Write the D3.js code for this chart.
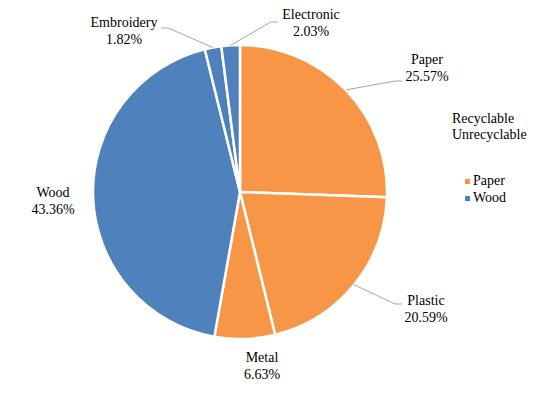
<!DOCTYPE html>
<html>
<head>
<meta charset="utf-8">
<script src="https://cdn.jsdelivr.net/npm/d3@7"></script>
<style>
  body { margin: 0; background: #fff; }
  svg text { font-family: "Liberation Serif", "DejaVu Serif", "Times New Roman", Times, serif; font-size: 14px; fill: #000; }
</style>
</head>
<body>
<div id="chart"></div>
<script>
// slice data, clockwise from 12 o'clock
const categories = ["Paper", "Plastic", "Metal", "Wood", "Embroidery", "Electronic"];
const shares = [25.57, 20.59, 6.63, 43.36, 1.82, 2.03];
const groups = ["Recyclable", "Recyclable", "Recyclable", "Unrecyclable", "Unrecyclable", "Unrecyclable"];
const legendTitles = ["Recyclable", "Unrecyclable"];
const legendItems = ["Paper", "Wood"];

// label layout (offset from pie centre) and leader elbows, null = no leader
const labelPos = [[187, -128], [186, 113], [22, 170], [-187, 5], [-116, -165], [71, -173]];
const elbows = [[155, -111], [155, 112], null, null, [-72, -164], [31, -170]];

const width = 549, height = 396;
const cx = 240, cy = 192, r = 147;

const color = d3.scaleOrdinal()
  .domain(["Recyclable", "Unrecyclable"])
  .range(["#F79646", "#4F81BD"]);

const svg = d3.select("#chart").append("svg")
  .attr("width", width)
  .attr("height", height);

const g = svg.append("g").attr("transform", `translate(${cx},${cy})`);

const pie = d3.pie().sort(null).value(d => d.v);
const data = categories.map((c, i) => ({ name: c, v: shares[i], group: groups[i] }));
const arcs = pie(data);
const arc = d3.arc().innerRadius(0).outerRadius(r);

g.selectAll("path.slice")
  .data(arcs)
  .enter()
  .append("path")
  .attr("class", "slice")
  .attr("d", arc)
  .attr("fill", d => color(d.data.group))
  .attr("stroke", "#fff")
  .attr("stroke-width", 2.5);

// leader lines
arcs.forEach((d, i) => {
  const e = elbows[i];
  if (!e) return;
  const mid = (d.startAngle + d.endAngle) / 2;
  const p0 = [r * Math.sin(mid), -r * Math.cos(mid)];
  const dir = e[0] > 0 ? 1 : -1;
  const p2 = [e[0] + dir * 7, e[1]];
  g.append("polyline")
    .attr("points", [p0, e, p2].map(p => p.join(",")).join(" "))
    .attr("fill", "none")
    .attr("stroke", "#A6A6A6")
    .attr("stroke-width", 1);
});

// data labels
arcs.forEach((d, i) => {
  const t = g.append("text")
    .attr("text-anchor", "middle")
    .attr("transform", `translate(${labelPos[i][0]},${labelPos[i][1]})`);
  t.append("tspan").attr("x", 0).attr("y", 0).text(d.data.name);
  t.append("tspan").attr("x", 0).attr("y", 17).text(d.data.v.toFixed(2) + "%");
});

// legend
const lg = svg.append("g").attr("transform", "translate(452,123)");
lg.selectAll("text.title")
  .data(legendTitles)
  .enter()
  .append("text")
  .attr("class", "title")
  .attr("x", 0)
  .attr("y", (d, i) => i * 16)
  .text(d => d);

const li = lg.selectAll("g.item")
  .data(legendItems)
  .enter()
  .append("g")
  .attr("class", "item")
  .attr("transform", (d, i) => `translate(13,${62 + i * 17})`);
li.append("rect")
  .attr("x", 0).attr("y", -6)
  .attr("width", 5).attr("height", 5)
  .attr("fill", d => color(groups[categories.indexOf(d)]));
li.append("text")
  .attr("x", 8)
  .attr("y", 0)
  .text(d => d);
</script>
</body>
</html>
